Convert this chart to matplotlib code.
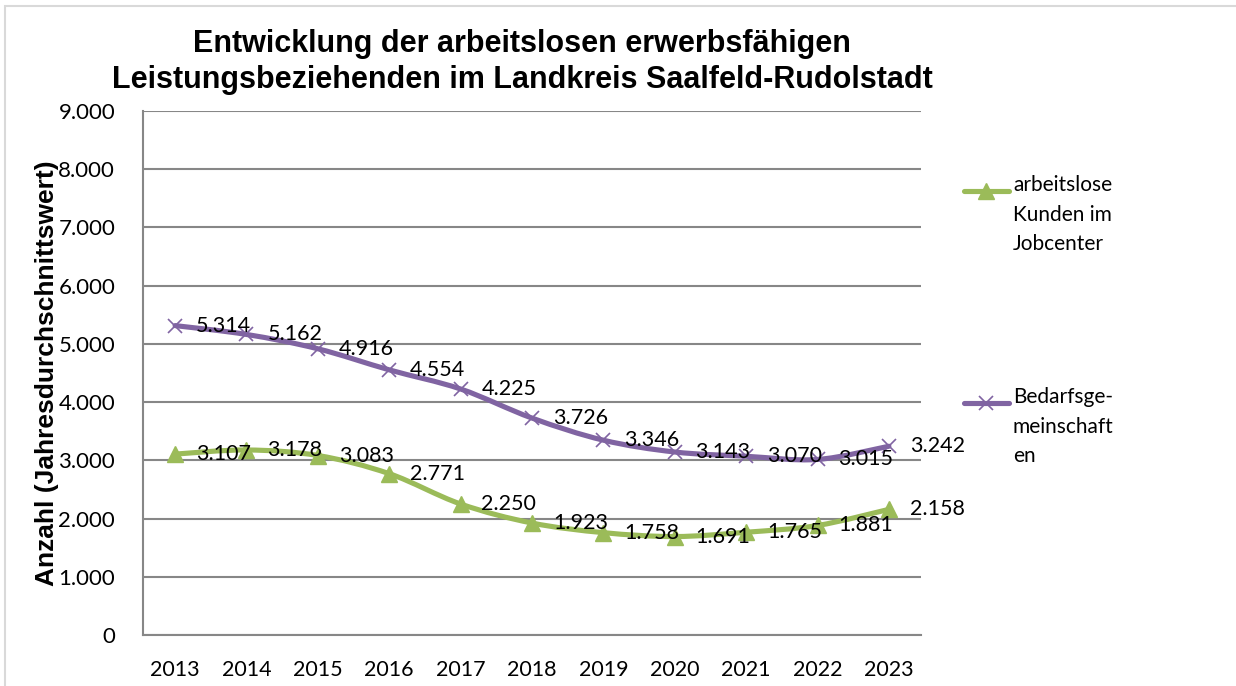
import numpy as np
import matplotlib
matplotlib.use("Agg")
import matplotlib.pyplot as plt
from matplotlib.path import Path
from matplotlib.patches import PathPatch, Rectangle
from matplotlib.lines import Line2D

# data
years = ["2013", "2014", "2015", "2016", "2017", "2018", "2019", "2020", "2021", "2022", "2023"]
kunden = [3107, 3178, 3083, 2771, 2250, 1923, 1758, 1691, 1765, 1881, 2158]
bedarfs = [5314, 5162, 4916, 4554, 4225, 3726, 3346, 3143, 3070, 3015, 3242]
label_kunden = "arbeitslose\nKunden im\nJobcenter"
label_bedarfs = "Bedarfsge-\nmeinschaft\nen"

GREEN = "#9BBB59"
PURPLE = "#8064A2"
GRID = "#878787"
NUMFONT = "Lato"


def smooth_path(x, y):
    # Excel-style smoothed line: Catmull-Rom as cubic bezier segments
    x = np.asarray(x, float); y = np.asarray(y, float)
    pts = np.column_stack([x, y])
    verts = [pts[0]]
    codes = [Path.MOVETO]
    n = len(pts)
    for i in range(n - 1):
        p0 = pts[i - 1] if i > 0 else pts[i]
        p1, p2 = pts[i], pts[i + 1]
        p3 = pts[i + 2] if i + 2 < n else pts[i + 1]
        c1 = p1 + (p2 - p0) / 6.0
        c2 = p2 - (p3 - p1) / 6.0
        verts += [c1, c2, p2]
        codes += [Path.CURVE4] * 3
    return Path(verts, codes)


fig = plt.figure(figsize=(12.36, 6.86), dpi=100)
fig.patch.set_facecolor("white")
fig.add_artist(Rectangle((5 / 1236, -0.1), 1.2, (686 - 6) / 686 + 0.1,
                         transform=fig.transFigure, fill=False,
                         edgecolor="#d9d9d9", lw=1.5))

ax = fig.add_axes([143 / 1236, 51 / 686, 778 / 1236, 524 / 686])
xs = np.arange(len(years))

for vals, color, marker, ms, mew in [(kunden, GREEN, "^", 11, 1),
                                     (bedarfs, PURPLE, "x", 10, 1.2)]:
    ax.add_patch(PathPatch(smooth_path(xs, vals), facecolor="none",
                           edgecolor=color, lw=3.7, capstyle="round",
                           joinstyle="round", zorder=3))
    ax.plot(xs, vals, ls="none", marker=marker, ms=ms, color=color,
            mec=color, mew=mew, zorder=4)
    for x, v in zip(xs, vals):
        ax.annotate(f"{v / 1000:.3f}", (x, v), xytext=(15, 0),
                    textcoords="offset points", ha="left", va="center",
                    fontsize=15.5, family=NUMFONT, color="black", zorder=5,
                    annotation_clip=False)

ax.set_xlim(-0.45, 10.45)
ax.set_ylim(0, 9000)
ax.set_yticks(np.arange(0, 9001, 1000))
ax.set_yticklabels(["0"] + [f"{v // 1000}.000" for v in range(1000, 9001, 1000)],
                   family=NUMFONT, fontsize=16)
ax.set_xticks(xs)
ax.set_xticklabels(years, family=NUMFONT, fontsize=15.5)
ax.tick_params(axis="both", length=0)
ax.tick_params(axis="x", pad=18)
ax.tick_params(axis="y", pad=20)
ax.grid(axis="y", color=GRID, lw=1.5)
ax.set_axisbelow(True)
for s in ["top", "right"]:
    ax.spines[s].set_visible(False)
for s in ["left", "bottom"]:
    ax.spines[s].set_color(GRID)
    ax.spines[s].set_linewidth(1.5)

fig.text(47 / 1236, 1 - 373 / 686, "Anzahl (Jahresdurchschnittswert)",
         rotation=90, ha="center", va="center", fontsize=19,
         fontweight="bold", family="Liberation Sans")

fig.text(522 / 1236, 1 - 62 / 686,
         "Entwicklung der arbeitslosen erwerbsfähigen\n"
         "Leistungsbeziehenden im Landkreis Saalfeld-Rudolstadt",
         ha="center", va="center", fontsize=22, fontweight="bold",
         family="Liberation Sans", linespacing=1.25)

# legend drawn by hand on the right
for y, color, marker, ms, mew, lab in [(191, GREEN, "^", 11, 1, label_kunden),
                                       (403, PURPLE, "x", 10, 1.2, label_bedarfs)]:
    fy = 1 - y / 686
    fig.add_artist(Line2D([964 / 1236, 1009 / 1236], [fy, fy], color=color,
                          lw=3.7, solid_capstyle="round",
                          transform=fig.transFigure))
    fig.add_artist(Line2D([986 / 1236], [fy], color=color, marker=marker,
                          ms=ms, mew=mew, ls="none",
                          transform=fig.transFigure))
    fig.text(1013 / 1236, fy + 16 / 686, lab, ha="left", va="top",
             fontsize=15, family=NUMFONT, linespacing=1.6)

fig.savefig("out.png", dpi=100)
